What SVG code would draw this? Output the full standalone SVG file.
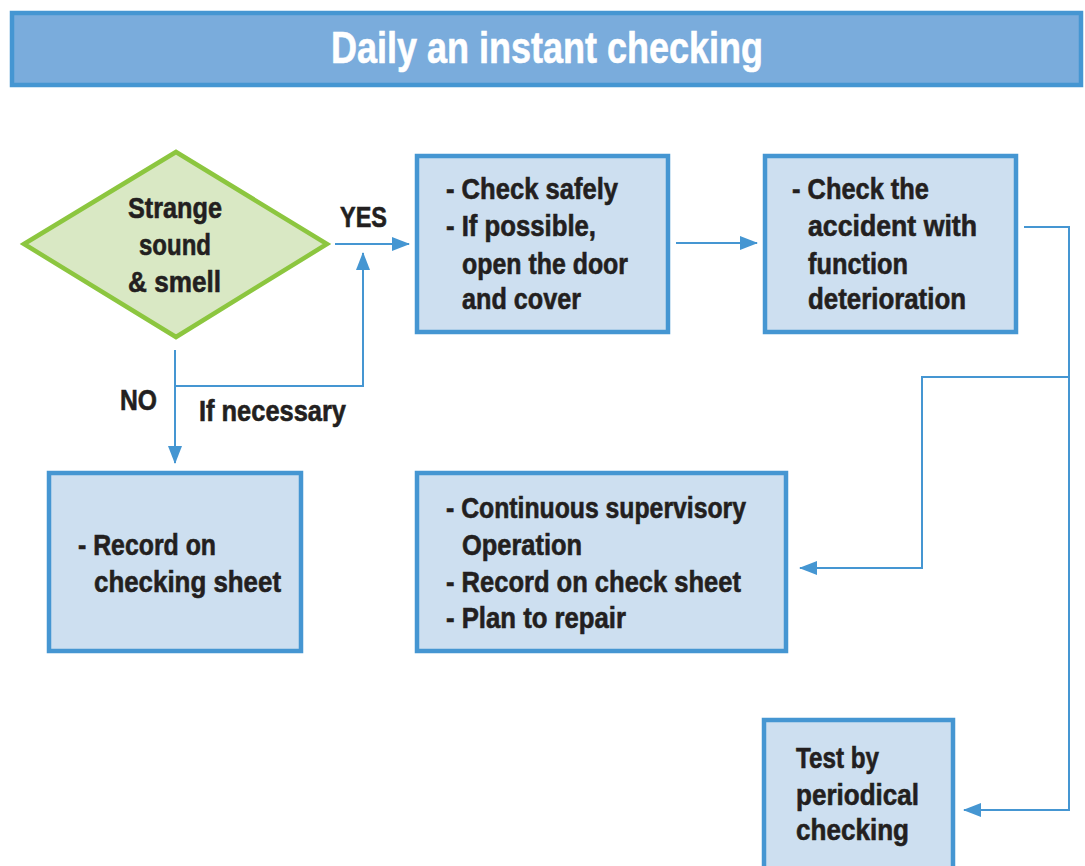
<svg xmlns="http://www.w3.org/2000/svg" width="1085" height="866" viewBox="0 0 1085 866">
<style>
.box{fill:#cddff0;stroke:#4596d2;stroke-width:4.5}
.t{font-family:"Liberation Sans",Arial,sans-serif;font-weight:bold;font-size:29px;fill:#231f20;stroke:#231f20;stroke-width:0.6}
.title{font-family:"Liberation Sans",Arial,sans-serif;font-weight:bold;font-size:45px;fill:#ffffff;stroke:#ffffff;stroke-width:0.6}
.c{fill:none;stroke:#4596d2;stroke-width:2}
</style>
<defs>
<marker id="ah" markerUnits="userSpaceOnUse" markerWidth="18" markerHeight="14" refX="17" refY="7" orient="auto">
<path d="M0,0 L18,7 L0,14 Z" fill="#4596d2"/>
</marker>
</defs>
<rect width="1085" height="866" fill="#ffffff"/>
<g id="title">
<rect x="12" y="13" width="1069" height="72" fill="#7aacdc" stroke="#4596d2" stroke-width="4.5"/>
<text class="title" x="331" y="63" textLength="432" lengthAdjust="spacingAndGlyphs">Daily an instant checking</text>
</g>
<g id="connectors">
<line class="c" x1="335" y1="244" x2="409" y2="244" marker-end="url(#ah)"/>
<polyline class="c" points="175,386 363,386 363,253" marker-end="url(#ah)"/>
<line class="c" x1="175" y1="350" x2="175" y2="463" marker-end="url(#ah)"/>
<line class="c" x1="676" y1="243" x2="757" y2="243" marker-end="url(#ah)"/>
<polyline class="c" points="1024,227 1069,227 1069,810 964,810" marker-end="url(#ah)"/>
<polyline class="c" points="1069,377 922,377 922,568 800,568" marker-end="url(#ah)"/>
<text class="t" x="340" y="227" textLength="47" lengthAdjust="spacingAndGlyphs">YES</text>
<text class="t" x="120" y="410" textLength="37" lengthAdjust="spacingAndGlyphs">NO</text>
<text class="t" x="199" y="421" textLength="147" lengthAdjust="spacingAndGlyphs">If necessary</text>
</g>
<g id="decision">
<polygon points="24,244 176,152 327,244 176,337" fill="#d9e8c4" stroke="#8cc63f" stroke-width="4.5"/>
<text class="t" x="128" y="218" textLength="94" lengthAdjust="spacingAndGlyphs">Strange</text>
<text class="t" x="139" y="255" textLength="72" lengthAdjust="spacingAndGlyphs">sound</text>
<text class="t" x="128" y="292" textLength="93" lengthAdjust="spacingAndGlyphs">&amp; smell</text>
</g>
<g id="check-safely">
<rect class="box" x="417" y="156" width="251" height="176"/>
<text class="t" x="446" y="199" textLength="172" lengthAdjust="spacingAndGlyphs">- Check safely</text>
<text class="t" x="446" y="236" textLength="150" lengthAdjust="spacingAndGlyphs">- If possible,</text>
<text class="t" x="462" y="274" textLength="166" lengthAdjust="spacingAndGlyphs">open the door</text>
<text class="t" x="462" y="309" textLength="119" lengthAdjust="spacingAndGlyphs">and cover</text>
</g>
<g id="check-accident">
<rect class="box" x="765" y="156" width="251" height="176"/>
<text class="t" x="792" y="199" textLength="137" lengthAdjust="spacingAndGlyphs">- Check the</text>
<text class="t" x="808" y="236" textLength="169" lengthAdjust="spacingAndGlyphs">accident with</text>
<text class="t" x="808" y="274" textLength="100" lengthAdjust="spacingAndGlyphs">function</text>
<text class="t" x="808" y="309" textLength="158" lengthAdjust="spacingAndGlyphs">deterioration</text>
</g>
<g id="record">
<rect class="box" x="49" y="473" width="252" height="178"/>
<text class="t" x="78" y="555" textLength="138" lengthAdjust="spacingAndGlyphs">- Record on</text>
<text class="t" x="94" y="592" textLength="187" lengthAdjust="spacingAndGlyphs">checking sheet</text>
</g>
<g id="supervisory">
<rect class="box" x="417" y="473" width="369" height="178"/>
<text class="t" x="446" y="518" textLength="300" lengthAdjust="spacingAndGlyphs">- Continuous supervisory</text>
<text class="t" x="462" y="555" textLength="120" lengthAdjust="spacingAndGlyphs">Operation</text>
<text class="t" x="446" y="592" textLength="295" lengthAdjust="spacingAndGlyphs">- Record on check sheet</text>
<text class="t" x="446" y="628" textLength="180" lengthAdjust="spacingAndGlyphs">- Plan to repair</text>
</g>
<g id="periodical">
<rect class="box" x="764" y="720" width="189" height="160"/>
<text class="t" x="796" y="768" textLength="83" lengthAdjust="spacingAndGlyphs">Test by</text>
<text class="t" x="796" y="805" textLength="123" lengthAdjust="spacingAndGlyphs">periodical</text>
<text class="t" x="796" y="840" textLength="113" lengthAdjust="spacingAndGlyphs">checking</text>
</g>
</svg>
